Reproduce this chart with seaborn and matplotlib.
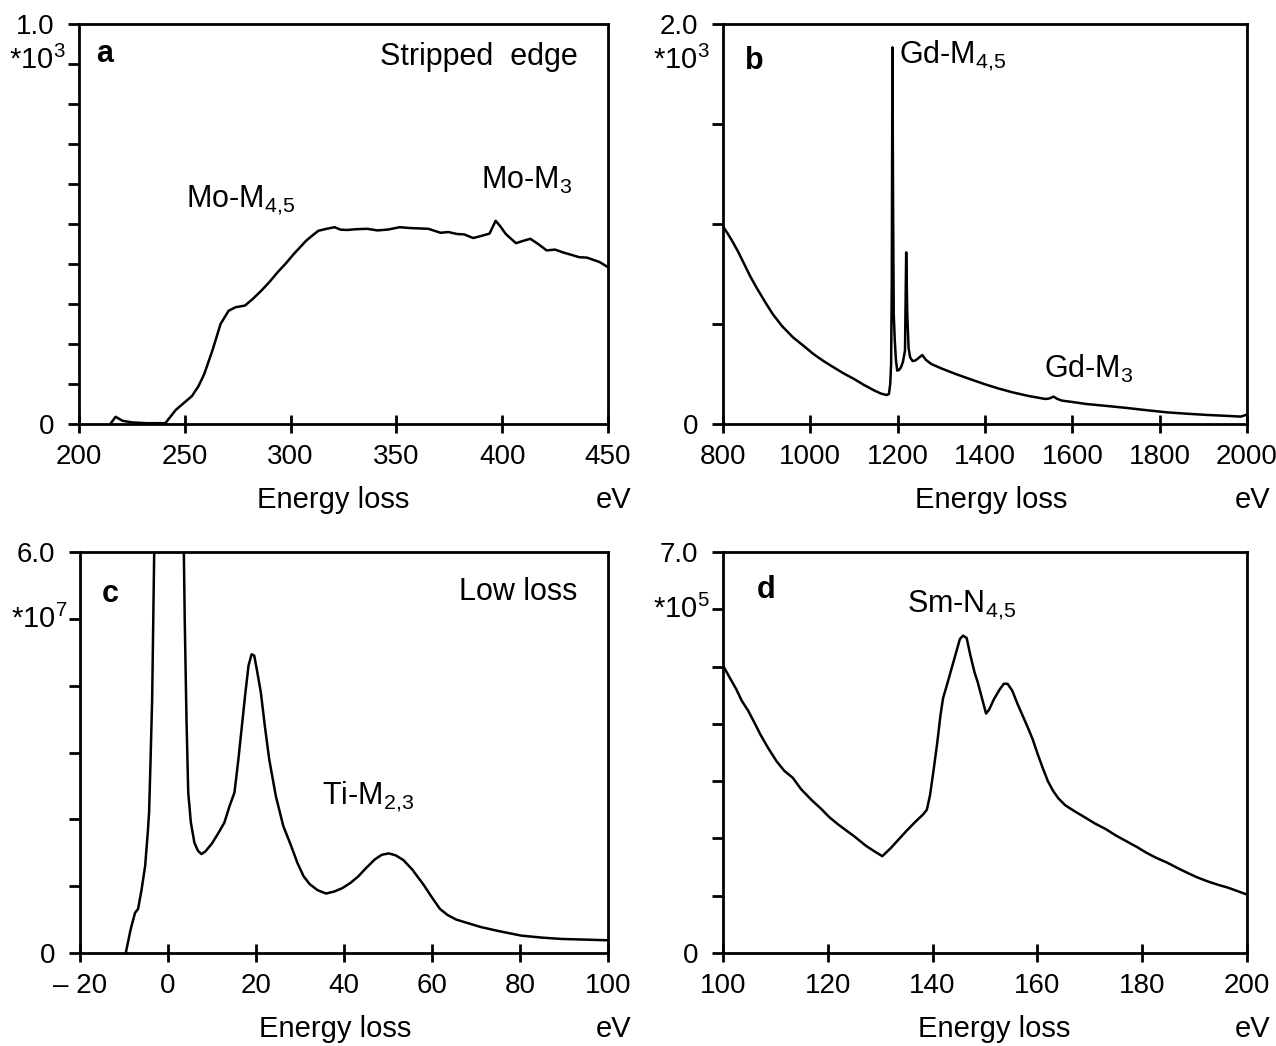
import numpy as np
import pandas as pd
import seaborn as sns
import matplotlib
matplotlib.use("Agg")
import matplotlib.pyplot as plt

# ---------------- data ----------------
# panel a : stripped Mo-M edge (counts *10^3)
a_energy = [214.8, 217.3, 220.6, 225.0, 232.0, 240.8, 245.7, 249.0, 253.4, 256.5, 259.2, 263.0,
            266.9, 270.7, 274.0, 278.4, 282.0, 286.1, 290.0, 293.8, 297.5, 301.5, 304.5, 307.3,
            310.0, 313.1, 317.0, 320.8, 323.5, 326.6, 331.0, 336.2, 341.0, 345.9, 351.6, 356.0,
            360.5, 365.1, 370.9, 374.5, 378.6, 382.0, 386.3, 390.0, 394.0, 396.9, 399.0, 401.7,
            406.5, 410.0, 413.3, 417.0, 421.0, 425.0, 428.7, 432.0, 436.4, 440.0, 442.2, 446.0, 450.0]
a_counts = [0.000, 0.018, 0.008, 0.004, 0.002, 0.002, 0.035, 0.050, 0.070, 0.095, 0.125, 0.183,
            0.250, 0.283, 0.292, 0.296, 0.312, 0.333, 0.355, 0.379, 0.400, 0.425, 0.442, 0.458,
            0.470, 0.483, 0.488, 0.492, 0.486, 0.485, 0.487, 0.488, 0.484, 0.486, 0.492, 0.490,
            0.489, 0.488, 0.478, 0.480, 0.475, 0.474, 0.465, 0.470, 0.476, 0.508, 0.495, 0.475,
            0.452, 0.458, 0.463, 0.450, 0.434, 0.436, 0.429, 0.424, 0.417, 0.416, 0.412, 0.405, 0.392]

# panel b : Gd-M edges (counts *10^3)
b_energy = [800, 810, 820.5, 835, 848.5, 862, 876.5, 895, 913.8, 935, 960.4, 985, 1007, 1030,
            1053.6, 1077, 1100.2, 1123, 1146.9, 1162, 1174.8, 1180, 1183, 1185, 1186.5, 1188,
            1189.5, 1191, 1193.3, 1196, 1199, 1203, 1207.5, 1212, 1216.8, 1219.5, 1222, 1225,
            1228.6, 1234, 1240, 1248, 1256.3, 1265, 1276.9, 1300, 1332.8, 1365, 1398, 1430,
            1463.6, 1500, 1538.5, 1548, 1557, 1566, 1576, 1600, 1632, 1680, 1725.6, 1770,
            1818, 1865, 1911, 1950, 1986, 2000]
b_counts = [0.987, 0.955, 0.917, 0.860, 0.800, 0.740, 0.683, 0.615, 0.550, 0.490, 0.433, 0.390,
            0.350, 0.315, 0.283, 0.252, 0.225, 0.195, 0.167, 0.152, 0.145, 0.150, 0.200, 0.300,
            0.700, 1.883, 1.100, 0.550, 0.420, 0.320, 0.267, 0.270, 0.283, 0.310, 0.367, 0.858,
            0.550, 0.380, 0.333, 0.315, 0.317, 0.330, 0.345, 0.320, 0.300, 0.278, 0.250, 0.225,
            0.200, 0.178, 0.158, 0.140, 0.125, 0.128, 0.137, 0.125, 0.117, 0.110, 0.100, 0.090,
            0.080, 0.069, 0.058, 0.051, 0.045, 0.041, 0.037, 0.047]

# panel c : low loss (counts *10^7)
c_energy = [-9.6, -8.5, -7.5, -6.8, -6.0, -5.2, -4.6, -4.3, -4.0, -3.6, -2.5, 0.0, 3.0, 3.8,
            4.2, 4.6, 5.2, 6.0, 6.8, 7.6, 8.5, 10.0, 11.5, 12.8, 14.0, 15.1, 16.0, 16.8, 17.6,
            18.3, 19.0, 19.6, 20.3, 21.1, 22.0, 23.0, 24.5, 26.2, 28.0, 29.4, 30.8, 32.2, 34.0,
            35.9, 37.8, 39.6, 41.5, 43.3, 45.0, 47.0, 48.6, 50.2, 51.8, 53.5, 55.5, 58.1, 60.0,
            61.8, 63.5, 65.5, 68.0, 71.0, 75.0, 80.3, 85.0, 89.5, 95.0, 100.0]
c_counts = [0.00, 0.35, 0.60, 0.66, 0.95, 1.30, 1.80, 2.10, 2.80, 3.80, 9.00, 12.00, 9.00, 5.00,
            3.50, 2.40, 1.95, 1.65, 1.53, 1.48, 1.52, 1.64, 1.80, 1.95, 2.20, 2.40, 2.90, 3.40, 3.90,
            4.30, 4.47, 4.45, 4.20, 3.90, 3.40, 2.90, 2.35, 1.90, 1.60, 1.35, 1.15, 1.03, 0.94,
            0.89, 0.92, 0.97, 1.05, 1.15, 1.27, 1.40, 1.47, 1.49, 1.46, 1.39, 1.25, 1.02, 0.83,
            0.66, 0.57, 0.50, 0.45, 0.39, 0.33, 0.26, 0.23, 0.21, 0.20, 0.19]

# panel d : Sm-N4,5 (counts *10^5)
d_energy = [100, 101.2, 102.5, 103.6, 104.8, 106, 107.1, 108.6, 110.2, 111.7, 113.3, 114.9,
            116.8, 118.8, 120.3, 121.9, 123.5, 125, 127.3, 128.8, 130.4, 132, 133.5, 135,
            136.6, 138.2, 138.9, 139.5, 140.2, 140.9, 141.5, 142, 142.8, 143.6, 144.5, 145.2,
            145.8, 146.5, 147.2, 148.0, 148.6, 149.5, 150.2, 150.8, 151.7, 152.8, 153.6, 154.3,
            155.2, 156.2, 157.2, 158.2, 159.1, 160.1, 161.1, 162, 163, 164, 165.3, 167, 169.2,
            171, 173.1, 175, 177, 179, 180.8, 182.7, 184.7, 186.6, 188.6, 190.5, 192.5, 194.5,
            196.4, 198.2, 200]
d_counts = [5.02, 4.82, 4.61, 4.40, 4.23, 4.02, 3.82, 3.58, 3.35, 3.18, 3.06, 2.86,
            2.68, 2.51, 2.37, 2.25, 2.14, 2.04, 1.87, 1.78, 1.69, 1.83, 1.98, 2.13,
            2.28, 2.42, 2.50, 2.75, 3.20, 3.68, 4.15, 4.45, 4.70, 4.96, 5.25, 5.48,
            5.54, 5.50, 5.20, 4.90, 4.73, 4.42, 4.18, 4.25, 4.43, 4.60, 4.70, 4.70,
            4.58, 4.35, 4.14, 3.93, 3.73, 3.46, 3.21, 3.00, 2.83, 2.70, 2.58, 2.48, 2.36,
            2.26, 2.16, 2.05, 1.95, 1.85, 1.75, 1.66, 1.58, 1.49, 1.40, 1.32, 1.25, 1.19,
            1.14, 1.08, 1.02]

# axis ranges / tick labels
a_xticks = [200, 250, 300, 350, 400, 450]
b_xticks = [800, 1000, 1200, 1400, 1600, 1800, 2000]
c_xticks = [-20, 0, 20, 40, 60, 80, 100]
c_xlabels = ["– 20", "0", "20", "40", "60", "80", "100"]
d_xticks = [100, 120, 140, 160, 180, 200]

# ---------------- style ----------------
sns.set_theme(style="ticks")
plt.rcParams["font.family"] = ["Liberation Sans", "DejaVu Sans"]
plt.rcParams["mathtext.fontset"] = "custom"
plt.rcParams["mathtext.rm"] = "Liberation Sans"
plt.rcParams["mathtext.it"] = "Liberation Sans"
plt.rcParams["text.color"] = "black"
FS_TICK = 20
FS_LAB = 21
FS_ANN = 22

fig = plt.figure(figsize=(12.76, 10.46), dpi=100)
W, H = 1276, 1046


def make_ax(l, t, r, b):
    return fig.add_axes([l / W, 1 - b / H, (r - l) / W, (b - t) / H])


axa = make_ax(79, 24, 608, 424)
axb = make_ax(723, 24, 1247, 424)
axc = make_ax(80, 552, 608, 953)
axd = make_ax(723, 552, 1247, 953)

panels = [
    (axa, a_energy, a_counts, (200, 450), a_xticks, [str(t) for t in a_xticks],
     (0, 1.0), np.arange(0, 11) * 0.1, "1.0", "*10$^{3}$", 0.908, "a", (0.032, 0.925), 0.48),
    (axb, b_energy, b_counts, (800, 2000), b_xticks, [str(t) for t in b_xticks],
     (0, 2.0), np.arange(0, 5) * 0.5, "2.0", "*10$^{3}$", 0.908, "b", (0.042, 0.908), 0.512),
    (axc, c_energy, c_counts, (-20, 100), c_xticks, c_xlabels,
     (0, 6.0), np.arange(0, 7) * 1.0, "6.0", "*10$^{7}$", 0.833, "c", (0.042, 0.896), 0.483),
    (axd, d_energy, d_counts, (100, 200), d_xticks, [str(t) for t in d_xticks],
     (0, 7.0), np.arange(0, 8) * 1.0, "7.0", "*10$^{5}$", 0.858, "d", (0.064, 0.904), 0.517),
]

for (ax, xs, ys, xlim, xt, xtl, ylim, yt, toplab, mult, my, plab, ppos, elx) in panels:
    df = pd.DataFrame({"E": xs, "I": ys})
    sns.lineplot(data=df, x="E", y="I", ax=ax, color="black", linewidth=1.8,
                 estimator=None, sort=False)
    ax.set_xlim(*xlim)
    ax.set_ylim(*ylim)
    ax.set_xticks(xt)
    ax.set_xticklabels(xtl)
    ax.set_yticks(yt)
    ylabels = [""] * len(yt)
    ylabels[0] = "0"
    ylabels[-1] = toplab
    ax.set_yticklabels(ylabels)
    ax.set_xlabel("")
    ax.set_ylabel("")
    for s in ax.spines.values():
        s.set_visible(True)
        s.set_linewidth(2.0)
        s.set_color("black")
    ax.tick_params(axis="x", direction="inout", length=13, width=2.0,
                   labelsize=FS_TICK, pad=8, colors="black")
    ax.tick_params(axis="y", direction="out", length=8, width=2.0,
                   labelsize=FS_TICK, pad=10, colors="black")
    ax.set_facecolor("white")
    # multiplier label
    ax.text(-0.025, my, mult, transform=ax.transAxes, ha="right", va="center",
            fontsize=FS_LAB, color="black")
    # panel letter
    ax.text(ppos[0], ppos[1], plab, transform=ax.transAxes, ha="left", va="center",
            fontsize=FS_ANN, fontweight="bold", color="black")
    # x axis label and unit
    ax.text(elx, -0.19, "Energy loss", transform=ax.transAxes, ha="center",
            va="center", fontsize=FS_LAB, color="black")
    ax.text(1.045, -0.19, "eV", transform=ax.transAxes, ha="right",
            va="center", fontsize=FS_LAB, color="black")

# annotations
axa.text(0.942, 0.917, "Stripped  edge", transform=axa.transAxes, ha="right",
         va="center", fontsize=FS_ANN, color="black")
axa.text(250.5, 0.558, r"Mo-M$_{4,\!5}$", ha="left", va="center", fontsize=FS_ANN, color="black")
axa.text(390.2, 0.608, r"Mo-M$_{3}$", ha="left", va="center", fontsize=FS_ANN, color="black")

axb.text(1203, 1.842, r"Gd-M$_{4,\!5}$", ha="left", va="center", fontsize=FS_ANN, color="black")
axb.text(1534, 0.275, r"Gd-M$_{3}$", ha="left", va="center", fontsize=FS_ANN, color="black")

axc.text(0.942, 0.9, "Low loss", transform=axc.transAxes, ha="right",
         va="center", fontsize=FS_ANN, color="black")
axc.text(35.0, 2.33, r"Ti-M$_{2,\!3}$", ha="left", va="center", fontsize=FS_ANN, color="black")

axd.text(135.1, 6.07, r"Sm-N$_{4,\!5}$", ha="left", va="center", fontsize=FS_ANN, color="black")

fig.savefig("out.png", dpi=100, facecolor="white")
